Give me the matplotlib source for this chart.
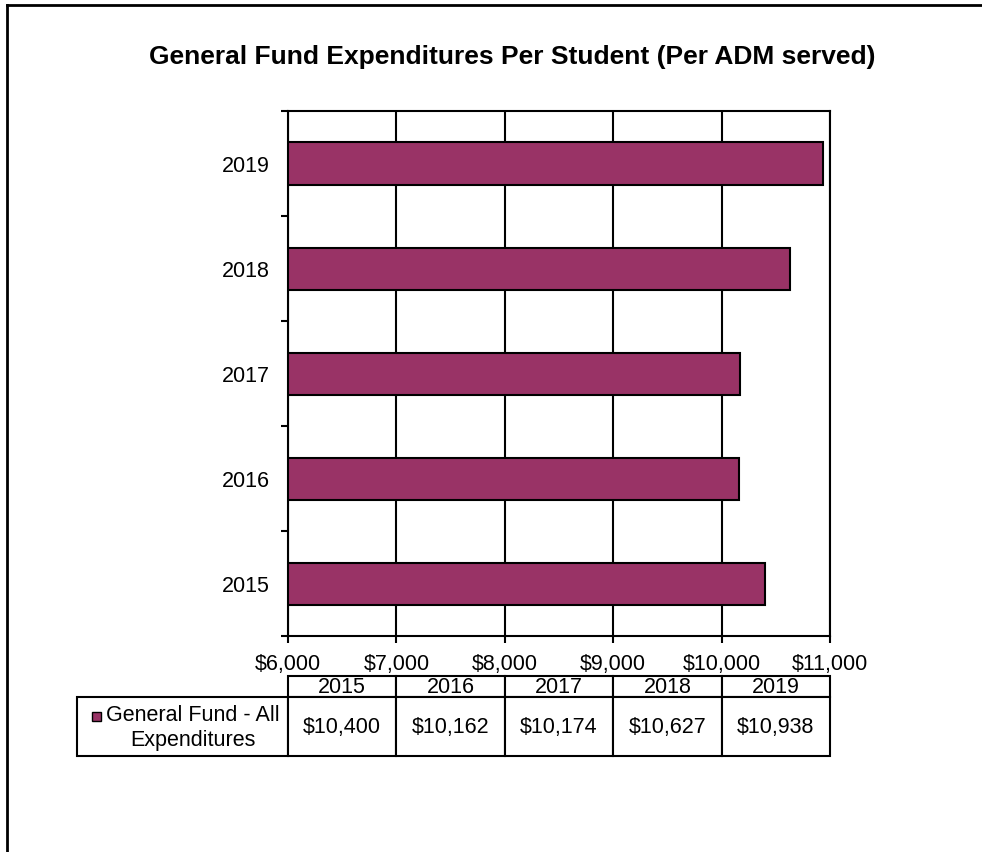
import matplotlib.pyplot as plt
from matplotlib.patches import Rectangle
from matplotlib.lines import Line2D

plt.rcParams['font.family'] = ['Liberation Sans', 'DejaVu Sans']

years = ['2015', '2016', '2017', '2018', '2019']
spending = [10400, 10162, 10174, 10627, 10938]
x_ticks = [6000, 7000, 8000, 9000, 10000, 11000]
series_name = 'General Fund - All\nExpenditures'
bar_color = '#993366'
fs = 15.5

fig = plt.figure(figsize=(9.82, 8.53), dpi=100)
ax = fig.add_axes([288 / 982, 1 - 637 / 853, 542 / 982, 525 / 853])

pos = list(range(len(years)))
ax.barh(pos, [v - 6000 for v in spending], left=6000, height=0.4,
        color=bar_color, edgecolor='black', linewidth=1.5, zorder=3)

ax.set_xlim(6000, 11000)
ax.set_ylim(-0.5, len(years) - 0.5)
ax.set_xticks(x_ticks)
ax.set_xticklabels(['${:,}'.format(t) for t in x_ticks], fontsize=fs)
ax.set_yticks(pos)
ax.set_yticklabels(years, fontsize=fs)
ax.set_yticks([p - 0.5 for p in pos] + [len(years) - 0.5], minor=True)
ax.tick_params(axis='y', which='major', length=0, pad=13)
ax.tick_params(axis='y', which='minor', length=5, width=1.5, direction='out')
ax.tick_params(axis='x', length=5, width=1.5, pad=7)
ax.grid(axis='x', color='black', linewidth=1.5, zorder=1)
for s in ax.spines.values():
    s.set_linewidth(1.5)

fig.text(512 / 982, 1 - 57 / 853, 'General Fund Expenditures Per Student (Per ADM served)',
         ha='center', va='center', fontsize=19, fontweight='bold')

# data table under the chart
tbl = ax.table(cellText=[[''] + ['${:,}'.format(v) for v in spending]],
               colLabels=[''] + years, cellLoc='center',
               bbox=[(77 - 288) / 542, (637 - 757) / 525, (830 - 77) / 542, 80 / 525])
tbl.auto_set_font_size(False)
tbl.set_fontsize(fs)
for (r, c), cell in tbl.get_celld().items():
    cell.set_linewidth(1.5)
    cell.set_height(21 if r == 0 else 59)
    cell.set_width(211 if c == 0 else 108.4)
tbl[0, 0].visible_edges = ''

# row label with legend key
lab_x = (193 - 288) / 542
lab_y = (637 - 728) / 525
ax.text(lab_x, lab_y, series_name, transform=ax.transAxes, ha='center', va='center',
        fontsize=fs, linespacing=1.2)
ax.add_patch(Rectangle(((92 - 288) / 542, (637 - 722) / 525), 9 / 542, 9 / 525,
                       transform=ax.transAxes, facecolor=bar_color, edgecolor='black',
                       linewidth=1, clip_on=False))

# outer frame (top and left only visible)
fig.add_artist(Line2D([7 / 982, 1], [1 - 6 / 853, 1 - 6 / 853], color='black', linewidth=2))
fig.add_artist(Line2D([7 / 982, 7 / 982], [0, 1 - 6 / 853], color='black', linewidth=2))

fig.savefig('out.png', dpi=100, facecolor='white')
